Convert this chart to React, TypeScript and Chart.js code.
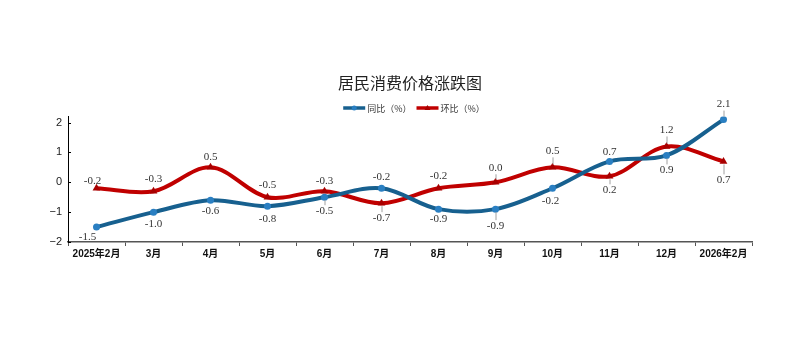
import React, { useEffect, useRef } from "react";
import { Chart, registerables } from "chart.js";

Chart.register(...registerables);

const categories = [
  "2025年2月", "3月", "4月", "5月", "6月", "7月",
  "8月", "9月", "10月", "11月", "12月", "2026年2月",
];
const yoyValues = [-1.5, -1.0, -0.6, -0.8, -0.5, -0.2, -0.9, -0.9, -0.2, 0.7, 0.9, 2.1];
const momValues = [-0.2, -0.3, 0.5, -0.5, -0.3, -0.7, -0.2, 0.0, 0.5, 0.2, 1.2, 0.7];
const yTicks = [-2, -1, 0, 1, 2];

const seriesNames = ["同比（%）", "环比（%）"];
const titleText = "居民消费价格涨跌图";

// label placement (style): vertical offset in px (negative = above), horizontal shift
const yoyLabelDy = [10, 12, 11, 13, 14, -11, 10, 17, 13, -9, 15, -15];
const yoyLabelDx = [-9, 0, 0, 0, 0, 0, 0, 0, -2, 0, 0, 0];
const momLabelDy = [-7, -12, -10, -12, -10, 15, -12, -14, -16, 14, -16, 19];
const momLabelDx = [-4, 0, 0, 0, 0, 0, 0, 0, 0, 0, 0, 0];

const BLUE = "#17608f";
const BLUE_PT = "#2a7fc2";
const RED = "#c00000";
const RED_PT = "#a80000";

const labelPlugin = {
  id: "pointLabels",
  afterDatasetsDraw(chart: any) {
    const ctx = chart.ctx;
    const cfgs = [
      { dy: yoyLabelDy, dx: yoyLabelDx, vals: yoyValues },
      { dy: momLabelDy, dx: momLabelDx, vals: momValues },
    ];
    ctx.save();
    ctx.font = "11px 'Liberation Serif', 'Times New Roman', serif";
    ctx.textAlign = "center";
    ctx.textBaseline = "middle";
    cfgs.forEach((c, di) => {
      const meta = chart.getDatasetMeta(di);
      meta.data.forEach((pt: any, i: number) => {
        const dy = c.dy[i];
        const dx = c.dx[i];
        const lx = pt.x + dx;
        const ly = pt.y + dy;
        if (Math.abs(dy) >= 14) {
          const s = Math.sign(dy);
          ctx.strokeStyle = "#a0a0a0";
          ctx.lineWidth = 1;
          ctx.beginPath();
          ctx.moveTo(pt.x + 0.5, pt.y + s * 3);
          ctx.lineTo(pt.x + 0.5, ly - s * 6);
          ctx.stroke();
        }
        ctx.fillStyle = "#333333";
        ctx.fillText(c.vals[i].toFixed(1), lx, ly);
      });
    });
    ctx.restore();
  },
};

const legendPlugin = {
  id: "customLegend",
  afterDraw(chart: any) {
    const ctx = chart.ctx;
    const area = chart.chartArea;
    const y = 100;
    ctx.save();
    ctx.font = "9px 'Noto Sans CJK SC', sans-serif";
    ctx.textBaseline = "middle";
    const lineLen = 22;
    const gap = 2;
    const itemGap = 5;
    const widths = seriesNames.map((n) => lineLen + gap + ctx.measureText(n).width);
    const total = widths[0] + widths[1] + itemGap;
    let x = (area.left + area.right) / 2 - total / 2 + 4;
    const colors = [BLUE, RED];
    const ptColors = [BLUE_PT, RED_PT];
    seriesNames.forEach((n, i) => {
      ctx.strokeStyle = colors[i];
      ctx.lineWidth = 3.5;
      ctx.beginPath();
      ctx.moveTo(x, y);
      ctx.lineTo(x + lineLen, y);
      ctx.stroke();
      ctx.fillStyle = ptColors[i];
      const cx = x + lineLen / 2;
      ctx.beginPath();
      if (i === 0) {
        ctx.arc(cx, y, 2.5, 0, Math.PI * 2);
      } else {
        ctx.moveTo(cx, y - 3);
        ctx.lineTo(cx + 3, y + 2);
        ctx.lineTo(cx - 3, y + 2);
        ctx.closePath();
      }
      ctx.fill();
      ctx.fillStyle = "#333333";
      ctx.fillText(n, x + lineLen + gap, y + 0.5);
      x += widths[i] + itemGap;
    });
    ctx.restore();
  },
};

const innerTickPlugin = {
  id: "innerYTicks",
  afterDraw(chart: any) {
    const ctx = chart.ctx;
    const ys = chart.scales.y;
    ctx.save();
    ctx.strokeStyle = "#000";
    ctx.lineWidth = 1;
    yTicks.forEach((v) => {
      const py = Math.round(ys.getPixelForValue(v)) + 0.5;
      ctx.beginPath();
      ctx.moveTo(ys.right, py);
      ctx.lineTo(ys.right + 3, py);
      ctx.stroke();
    });
    ctx.restore();
  },
};

export default function App() {
  const ref = useRef<HTMLCanvasElement | null>(null);
  useEffect(() => {
    if (!ref.current) return;
    const chart = new Chart(ref.current, {
      type: "line",
      data: {
        labels: categories,
        datasets: [
          {
            label: seriesNames[0],
            data: yoyValues,
            borderColor: BLUE,
            backgroundColor: BLUE_PT,
            borderWidth: 4,
            tension: 0.34,
            pointStyle: "circle",
            pointRadius: 3.5,
            pointBorderWidth: 0,
            pointBackgroundColor: BLUE_PT,
          },
          {
            label: seriesNames[1],
            data: momValues,
            borderColor: RED,
            backgroundColor: RED_PT,
            borderWidth: 4,
            tension: 0.34,
            pointStyle: "triangle",
            pointRadius: 4.5,
            pointBorderWidth: 0,
            pointBackgroundColor: RED_PT,
          },
        ],
      },
      options: {
        responsive: false,
        maintainAspectRatio: false,
        animation: false,
        layout: { padding: { left: 0, right: 42, top: 0, bottom: 78 } },
        plugins: {
          legend: { display: false },
          tooltip: { enabled: false },
          title: {
            display: true,
            text: titleText,
            fullSize: false,
            color: "#222222",
            font: { size: 16, family: "'Noto Sans CJK SC', sans-serif", weight: "normal" },
            padding: { top: 65, bottom: 24.4 },
          },
        },
        scales: {
          x: {
            type: "category",
            offset: true,
            grid: {
              display: true,
              offset: true,
              drawOnChartArea: false,
              drawTicks: true,
              tickLength: 4,
              color: "#555555",
            },
            border: { display: true, color: "#555555", width: 1.5 },
            ticks: {
              color: "#111111",
              font: { size: 10, weight: "bold", family: "'Liberation Sans', 'Noto Sans CJK SC', sans-serif" },
              padding: 2,
              maxRotation: 0,
              autoSkip: false,
            },
            afterFit(s: any) {
              s.height = 24;
            },
          },
          y: {
            min: -2,
            max: 2.2,
            afterBuildTicks(s: any) {
              s.ticks = yTicks.map((v) => ({ value: v }));
            },
            grid: { display: false, drawTicks: false },
            border: { display: true, color: "#000000", width: 1 },
            ticks: {
              color: "#222222",
              padding: 6,
              font: { size: 11, family: "'Liberation Sans', sans-serif" },
              callback: (v: any) => (Number(v) < 0 ? "−" + Math.abs(Number(v)) : String(v)),
            },
            afterFit(s: any) {
              s.width = 60;
            },
          },
        },
      },
      plugins: [labelPlugin, legendPlugin, innerTickPlugin],
    } as any);
    return () => chart.destroy();
  }, []);
  return (
    <div style={{ width: 786, height: 336 }}>
      <canvas ref={ref} width={786} height={336} style={{ width: 786, height: 336, display: "block" }} />
    </div>
  );
}
